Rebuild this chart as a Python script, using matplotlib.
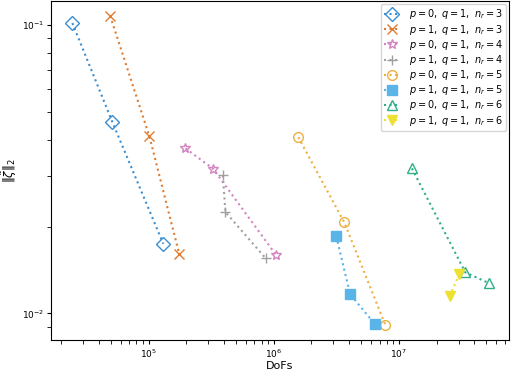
import numpy as np
import matplotlib
matplotlib.use("Agg")
import matplotlib.pyplot as plt

# DoFs and error norm for each (p, q, n_r) run
dofs_p0_n3 = [2.46e4, 5.14e4, 1.31e5]
err_p0_n3 = [0.1014, 0.0460, 0.01743]
dofs_p1_n3 = [4.93e4, 1.015e5, 1.76e5]
err_p1_n3 = [0.1074, 0.04107, 0.01602]
dofs_p0_n4 = [1.97e5, 3.28e5, 1.04e6]
err_p0_n4 = [0.03732, 0.0317, 0.01597]
dofs_p1_n4 = [3.92e5, 4.11e5, 8.63e5]
err_p1_n4 = [0.03008, 0.02245, 0.01552]
dofs_p0_n5 = [1.57e6, 3.66e6, 7.79e6]
err_p0_n5 = [0.0408, 0.02067, 0.00912]
dofs_p1_n5 = [3.16e6, 4.07e6, 6.44e6]
err_p1_n5 = [0.01849, 0.01167, 0.00917]
dofs_p0_n6 = [1.27e7, 3.39e7, 5.27e7]
err_p0_n6 = [0.03181, 0.01388, 0.01272]
dofs_p1_n6 = [3.04e7, 2.55e7]
err_p1_n6 = [0.0137, 0.01151]

series = [
    ("$p=0,\\ q=1,\\ n_r=3$", dofs_p0_n3, err_p0_n3, "#3b8ed0", "D", "none"),
    ("$p=1,\\ q=1,\\ n_r=3$", dofs_p1_n3, err_p1_n3, "#e07b30", "x", "full"),
    ("$p=0,\\ q=1,\\ n_r=4$", dofs_p0_n4, err_p0_n4, "#d484c0", "*", "none"),
    ("$p=1,\\ q=1,\\ n_r=4$", dofs_p1_n4, err_p1_n4, "#a0a0a0", "+", "full"),
    ("$p=0,\\ q=1,\\ n_r=5$", dofs_p0_n5, err_p0_n5, "#eeb040", "o", "none"),
    ("$p=1,\\ q=1,\\ n_r=5$", dofs_p1_n5, err_p1_n5, "#5ab4e8", "s", "full"),
    ("$p=0,\\ q=1,\\ n_r=6$", dofs_p0_n6, err_p0_n6, "#2fae88", "^", "none"),
    ("$p=1,\\ q=1,\\ n_r=6$", dofs_p1_n6, err_p1_n6, "#ece133", "v", "full"),
]

fig, ax = plt.subplots(figsize=(5.11, 3.73), dpi=100)
for label, x, y, color, marker, fill in series:
    ax.plot(x, y, ls=":", lw=1.5, color=color, marker=marker, ms=7,
            fillstyle=fill, mew=1.0, label=label)

ax.set_xscale("log")
ax.set_yscale("log")
ax.set_xlim(10**4.221, 10**7.879)
ax.set_ylim(10**-2.0925, 10**-0.918)
ax.set_xlabel("DoFs", fontsize=8, labelpad=1)
ax.set_ylabel("$\\|\\tilde{\\zeta}\\|_2$", fontsize=8.5, labelpad=2)
ax.tick_params(labelsize=6.5, pad=2)
ax.tick_params(which="both", length=3)
ax.legend(loc="upper right", fontsize=7, handlelength=1.6, borderpad=0.35,
          labelspacing=0.12, handletextpad=0.9, borderaxespad=0.3)

fig.subplots_adjust(left=0.1, right=0.996, top=0.997, bottom=0.088)
fig.savefig("out.png", dpi=100)
